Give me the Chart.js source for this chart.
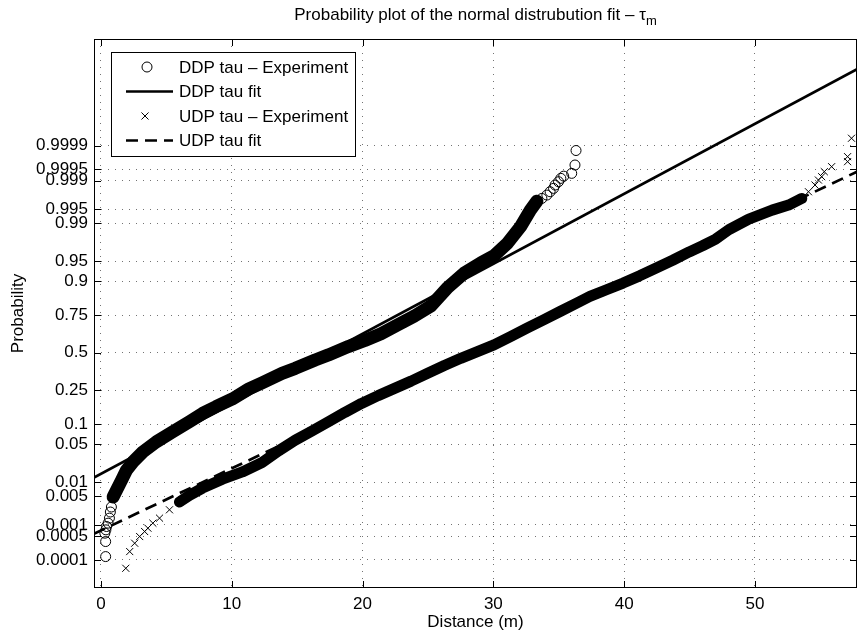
<!DOCTYPE html>
<html>
<head>
<meta charset="utf-8">
<title>Probability plot</title>
<script src="https://cdn.jsdelivr.net/npm/chart.js@4.4.0/dist/chart.umd.min.js"></script>
<style>
  html, body { margin: 0; padding: 0; background: #fff; }
  #plot { display: block; }
</style>
</head>
<body>
<canvas id="plot" width="863" height="637"></canvas>
<script>
'use strict';

// probability axis (labels) and distance axis ticks
var probTicks  = [0.0001, 0.0005, 0.001, 0.005, 0.01, 0.05, 0.1, 0.25, 0.5, 0.75, 0.9, 0.95, 0.99, 0.995, 0.999, 0.9995, 0.9999];
var probLabels = ['0.0001', '0.0005', '0.001', '0.005', '0.01', '0.05', '0.1', '0.25', '0.5', '0.75', '0.9', '0.95', '0.99', '0.995', '0.999', '0.9995', '0.9999'];
var distTicks  = [0, 10, 20, 30, 40, 50];

// DDP experiment, distance (m) and normal score (plotted on the probability axis)
var ddpDistance = [0.36, 0.36, 0.30, 0.38, 0.43, 0.55, 0.65, 0.72, 0.80, 0.93, 1.19, 1.57, 1.95, 2.45, 3.21, 4.23, 5.49, 6.76, 7.77, 8.79,
                   10.05, 11.31, 12.32, 13.84, 14.86, 16.38, 17.39, 18.91, 20.18, 21.41, 22.70, 23.97, 25.23, 26.50, 27.77, 29.03, 30.05, 31.06, 32.07, 32.83,
                   33.33, 33.71, 34.09, 34.34, 34.60, 34.72, 34.98, 35.16, 35.38, 35.99, 36.24, 36.32];
var ddpScore    = [-3.66, -3.39, -3.24, -3.18, -3.12, -3.06, -2.97, -2.86, -2.77, -2.59, -2.47, -2.29, -2.11, -1.96, -1.78, -1.60, -1.42, -1.24, -1.09, -0.97,
                   -0.83, -0.65, -0.54, -0.37, -0.28, -0.13, -0.04, 0.11, 0.22, 0.34, 0.50, 0.66, 0.84, 1.17, 1.43, 1.61, 1.74, 1.96, 2.26, 2.56,
                   2.72, 2.77, 2.83, 2.89, 2.95, 3.01, 3.07, 3.13, 3.17, 3.22, 3.37, 3.63];

// UDP experiment
var udpDistance = [1.90, 2.20, 2.58, 2.96, 3.34, 3.59, 3.97, 4.48, 5.24, 6.00, 6.76, 7.77, 9.29, 10.81, 12.32, 13.59, 14.86, 16.10, 17.39, 18.66,
                   19.92, 21.19, 22.45, 23.71, 24.98, 26.25, 27.51, 28.78, 30.05, 31.31, 32.57, 33.84, 35.10, 36.37, 37.38, 38.65, 39.92, 41.18, 42.45, 43.71,
                   44.97, 45.99, 47.00, 48.01, 49.53, 51.31, 52.57, 53.58, 54.09, 54.59, 54.85, 55.10, 55.30, 55.86, 57.08, 57.08, 57.38];
var udpScore    = [-3.87, -3.57, -3.42, -3.30, -3.21, -3.15, -3.06, -2.97, -2.82, -2.68, -2.56, -2.43, -2.27, -2.14, -1.97, -1.76, -1.57, -1.41, -1.24, -1.07,
                   -0.91, -0.77, -0.64, -0.51, -0.37, -0.23, -0.10, 0.02, 0.14, 0.29, 0.44, 0.59, 0.74, 0.89, 1.01, 1.13, 1.25, 1.38, 1.52, 1.66,
                   1.81, 1.92, 2.04, 2.21, 2.40, 2.56, 2.65, 2.77, 2.89, 3.01, 3.10, 3.16, 3.25, 3.34, 3.43, 3.52, 3.85];

// fitted lines, end points
var ddpFitDistance = [-0.53, 57.8];
var ddpFitScore    = [-2.24, 5.09];
var udpFitDistance = [-0.53, 57.8];
var udpFitScore    = [-3.25, 3.25];

// where the markers pile up into a solid band
var ddpBand = [9, 40];
var udpBand = [9, 47];

var FONT = '"Liberation Sans", Arial, Helvetica, sans-serif';

function norminv(p) {
  var a = [-3.969683028665376e+01, 2.209460984245205e+02, -2.759285104469687e+02, 1.383577518672690e+02, -3.066479806614716e+01, 2.506628277459239e+00];
  var b = [-5.447609879822406e+01, 1.615858368580409e+02, -1.556989798598866e+02, 6.680131188771972e+01, -1.328068155288572e+01];
  var c = [-7.784894002430293e-03, -3.223964580411365e-01, -2.400758277161838e+00, -2.549732539343734e+00, 4.374664141464968e+00, 2.938163982698783e+00];
  var d = [7.784695709041462e-03, 3.224671290700398e-01, 2.445134137142996e+00, 3.754408661907416e+00];
  var plow = 0.02425, q, r;
  if (p < plow) {
    q = Math.sqrt(-2 * Math.log(p));
    return (((((c[0]*q+c[1])*q+c[2])*q+c[3])*q+c[4])*q+c[5]) / ((((d[0]*q+d[1])*q+d[2])*q+d[3])*q+1);
  }
  if (p > 1 - plow) {
    q = Math.sqrt(-2 * Math.log(1 - p));
    return -(((((c[0]*q+c[1])*q+c[2])*q+c[3])*q+c[4])*q+c[5]) / ((((d[0]*q+d[1])*q+d[2])*q+d[3])*q+1);
  }
  q = p - 0.5; r = q * q;
  return (((((a[0]*r+a[1])*r+a[2])*r+a[3])*r+a[4])*r+a[5])*q / (((((b[0]*r+b[1])*r+b[2])*r+b[3])*r+b[4])*r+1);
}

function toPoints(xs, ys, from, to) {
  var pts = [];
  if (from === undefined) { from = 0; to = xs.length - 1; }
  for (var i = from; i <= to; i++) pts.push({ x: xs[i], y: ys[i] });
  return pts;
}

// MATLAB style box, inward ticks, legend, title and axis labels
var matlabFrame = {
  id: 'matlabFrame',
  afterDraw: function (chart) {
    var ctx = chart.ctx, a = chart.chartArea;
    var xs = chart.scales.x, ys = chart.scales.y;
    var tick = 7;
    ctx.save();
    ctx.strokeStyle = '#000';
    ctx.lineWidth = 1;
    ctx.setLineDash([]);
    ctx.strokeRect(a.left + 0.5, a.top + 0.5, a.right - a.left - 1, a.bottom - a.top - 1);
    ctx.beginPath();
    distTicks.forEach(function (v) {
      var px = Math.round(xs.getPixelForValue(v)) + 0.5;
      ctx.moveTo(px, a.bottom); ctx.lineTo(px, a.bottom - tick);
      ctx.moveTo(px, a.top); ctx.lineTo(px, a.top + tick);
    });
    probTicks.forEach(function (p) {
      var py = Math.round(ys.getPixelForValue(norminv(p))) + 0.5;
      ctx.moveTo(a.left, py); ctx.lineTo(a.left + tick, py);
      ctx.moveTo(a.right, py); ctx.lineTo(a.right - tick, py);
    });
    ctx.stroke();

    // legend
    var ds = chart.data.datasets;
    var box = { x: 111.5, y: 52.5, w: 244, h: 104 };
    ctx.fillStyle = '#fff';
    ctx.fillRect(box.x, box.y, box.w, box.h);
    ctx.strokeRect(box.x, box.y, box.w, box.h);
    var rows = [67, 91.5, 116, 140.5];
    var items = [ds[0], ds[2], ds[3], ds[5]];
    ctx.font = '17px ' + FONT;
    ctx.fillStyle = '#000';
    ctx.textBaseline = 'middle';
    ctx.textAlign = 'left';
    items.forEach(function (d, i) {
      var y = rows[i];
      ctx.save();
      if (d.pointStyle === 'circle') {
        ctx.lineWidth = 1;
        ctx.beginPath(); ctx.arc(147, y, d.pointRadius, 0, Math.PI * 2); ctx.stroke();
      } else if (d.pointStyle === 'crossRot') {
        var o = d.pointRadius * Math.SQRT1_2;
        ctx.lineWidth = 1;
        ctx.beginPath();
        ctx.moveTo(145 - o, y - o); ctx.lineTo(145 + o, y + o);
        ctx.moveTo(145 - o, y + o); ctx.lineTo(145 + o, y - o);
        ctx.stroke();
      } else {
        ctx.lineWidth = d.borderWidth;
        ctx.setLineDash(d.borderDash || []);
        ctx.beginPath(); ctx.moveTo(126, y); ctx.lineTo(173, y); ctx.stroke();
      }
      ctx.restore();
      ctx.fillText(d.label, 179, y + 1);
    });

    // title with subscript
    var cx = (a.left + a.right) / 2;
    var main = 'Probability plot of the normal distrubution fit \u2013 \u03c4';
    ctx.font = '17px ' + FONT;
    var w1 = ctx.measureText(main).width;
    ctx.font = '13px ' + FONT;
    var w2 = ctx.measureText('m').width;
    var x0 = cx - (w1 + w2) / 2;
    ctx.textBaseline = 'alphabetic';
    ctx.font = '17px ' + FONT;
    ctx.fillText(main, x0, 20);
    ctx.font = '13px ' + FONT;
    ctx.fillText('m', x0 + w1, 25);

    // axis labels
    ctx.font = '17px ' + FONT;
    ctx.textAlign = 'center';
    ctx.textBaseline = 'middle';
    ctx.fillText('Distance (m)', cx, 622);
    ctx.translate(18, (a.top + a.bottom) / 2);
    ctx.rotate(-Math.PI / 2);
    ctx.fillText('Probability', 0, 0);
    ctx.restore();
  }
};

var ctx = document.getElementById('plot');
var chart = new Chart(ctx, {
  type: 'scatter',
  data: {
    datasets: [
      {
        label: 'DDP tau \u2013 Experiment',
        data: toPoints(ddpDistance, ddpScore),
        pointStyle: 'circle',
        pointRadius: 5,
        pointBorderWidth: 1,
        borderColor: '#000',
        backgroundColor: 'rgba(0,0,0,0)',
        showLine: false
      },
      {
        label: 'DDP band',
        data: toPoints(ddpDistance, ddpScore, ddpBand[0], ddpBand[1]),
        showLine: true,
        pointRadius: 0,
        borderWidth: 13,
        borderColor: '#000',
        borderJoinStyle: 'round',
        borderCapStyle: 'round'
      },
      {
        label: 'DDP tau fit',
        data: toPoints(ddpFitDistance, ddpFitScore),
        showLine: true,
        pointRadius: 0,
        borderWidth: 2.7,
        borderColor: '#000'
      },
      {
        label: 'UDP tau \u2013 Experiment',
        data: toPoints(udpDistance, udpScore),
        pointStyle: 'crossRot',
        pointRadius: 5,
        pointBorderWidth: 1,
        borderColor: '#000',
        backgroundColor: 'rgba(0,0,0,0)',
        showLine: false
      },
      {
        label: 'UDP band',
        data: toPoints(udpDistance, udpScore, udpBand[0], udpBand[1]),
        showLine: true,
        pointRadius: 0,
        borderWidth: 11,
        borderColor: '#000',
        borderJoinStyle: 'round',
        borderCapStyle: 'round'
      },
      {
        label: 'UDP tau fit',
        data: toPoints(udpFitDistance, udpFitScore),
        showLine: true,
        pointRadius: 0,
        borderWidth: 2.7,
        borderDash: [12, 7],
        borderColor: '#000'
      }
    ]
  },
  options: {
    responsive: false,
    animation: false,
    events: [],
    layout: { padding: { top: 39, right: 1, left: 0, bottom: 0 } },
    plugins: {
      legend: { display: false },
      title: { display: false },
      tooltip: { enabled: false }
    },
    scales: {
      x: {
        type: 'linear',
        min: -0.53,
        max: 57.8,
        afterBuildTicks: function (s) { s.ticks = distTicks.map(function (v) { return { value: v }; }); },
        afterFit: function (s) { s.height = 49; },
        ticks: { autoSkip: false, maxRotation: 0, padding: 6, color: '#000', font: { family: FONT, size: 17 } },
        grid: { color: 'rgba(0,0,0,0.55)', lineWidth: 1, drawTicks: false },
        border: { display: false, dash: [1, 6] }
      },
      y: {
        type: 'linear',
        min: -4.224,
        max: 5.632,
        afterBuildTicks: function (s) { s.ticks = probTicks.map(function (p) { return { value: norminv(p) }; }); },
        afterFit: function (s) { s.width = 94; },
        ticks: {
          autoSkip: false,
          padding: 6,
          color: '#000',
          font: { family: FONT, size: 17 },
          callback: function (value, index) { return probLabels[index]; }
        },
        grid: { color: 'rgba(0,0,0,0.55)', lineWidth: 1, drawTicks: false },
        border: { display: false, dash: [1, 6] }
      }
    }
  },
  plugins: [matlabFrame]
});
</script>
</body>
</html>
